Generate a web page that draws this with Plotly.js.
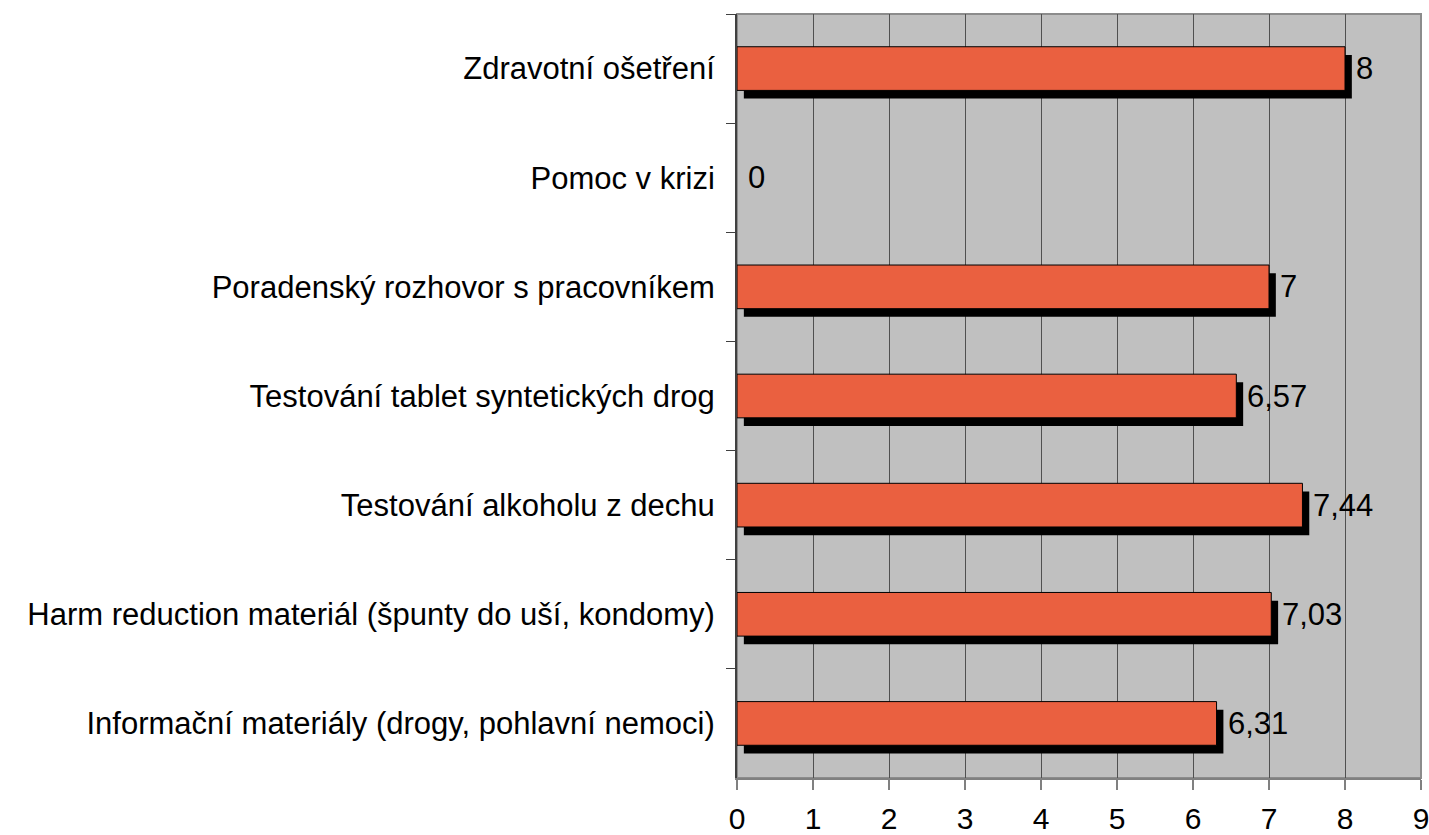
<!DOCTYPE html>
<html>
<head>
<meta charset="utf-8">
<script src="https://cdn.plot.ly/plotly-3.0.1.min.js"></script>
<style>html,body{margin:0;padding:0;background:#fff;}#chart{width:1429px;height:835px;}</style>
</head>
<body>
<div id="chart"></div>
<script>
var categories = [
  "Zdravotní ošetření",
  "Pomoc v krizi",
  "Poradenský rozhovor s pracovníkem",
  "Testování tablet syntetických drog",
  "Testování alkoholu z dechu",
  "Harm reduction materiál (špunty do uší, kondomy)",
  "Informační materiály (drogy, pohlavní nemoci)"
];
var values = [8, 0, 7, 6.57, 7.44, 7.03, 6.31];
var xTicks = [0, 1, 2, 3, 4, 5, 6, 7, 8, 9];

var FONT = "Liberation Sans, Arial, sans-serif";
var FS = 31;

var shadow = {
  type: "bar", orientation: "h",
  y: categories, x: values, base: 0.09,
  width: 0.4, offset: -0.125,
  marker: {color: "#000000", line: {width: 0}},
  hoverinfo: "skip", showlegend: false
};
var bars = {
  type: "bar", orientation: "h",
  y: categories, x: values,
  width: 0.4, offset: -0.2,
  marker: {color: "#EA6040", line: {color: "#000000", width: values.map(function (v) { return v > 0 ? 1 : 0; })}},
  showlegend: false
};

var annotations = categories.map(function (c, i) {
  return {
    x: values[i], y: c, xref: "x", yref: "y",
    text: String(values[i]).replace(".", ","),
    showarrow: false, xanchor: "left", yanchor: "middle",
    xshift: 9,
    font: {family: FONT, size: FS, color: "#000"}
  };
});

var layout = {
  width: 1429, height: 835,
  margin: {l: 737, r: 8, t: 14, b: 57, pad: 0},
  paper_bgcolor: "#ffffff",
  plot_bgcolor: "#C0C0C0",
  barmode: "overlay",
  font: {family: FONT, size: FS, color: "#000"},
  xaxis: {
    range: [0, 9], tickvals: xTicks, ticktext: xTicks.map(String),
    showgrid: true, gridcolor: "#505050", gridwidth: 1,
    zeroline: false,
    showline: true, linecolor: "#808080", linewidth: 1.5,
    ticks: "outside", ticklen: 10, tickcolor: "#808080", tickwidth: 1.5,
    tickfont: {family: FONT, size: 30, color: "#000"},
    ticklabelstandoff: 3,
    ticklabeloverflow: "allow",
    fixedrange: true
  },
  yaxis: {
    type: "category", autorange: "reversed",
    showgrid: false, zeroline: false,
    showline: true, linecolor: "#404040", linewidth: 2,
    ticks: "outside", tickson: "boundaries", ticklen: 9, tickcolor: "#404040", tickwidth: 1,
    tickfont: {family: FONT, size: FS, color: "#000"},
    ticklabelstandoff: 14,
    fixedrange: true
  },
  shapes: [{
    type: "rect", xref: "paper", yref: "paper", x0: 0, x1: 1, y0: 0, y1: 1,
    line: {color: "#8C8C8C", width: 2}, layer: "below"
  }],
  annotations: annotations
};

Plotly.newPlot("chart", [shadow, bars], layout, {displayModeBar: false, staticPlot: true});
</script>
</body>
</html>
